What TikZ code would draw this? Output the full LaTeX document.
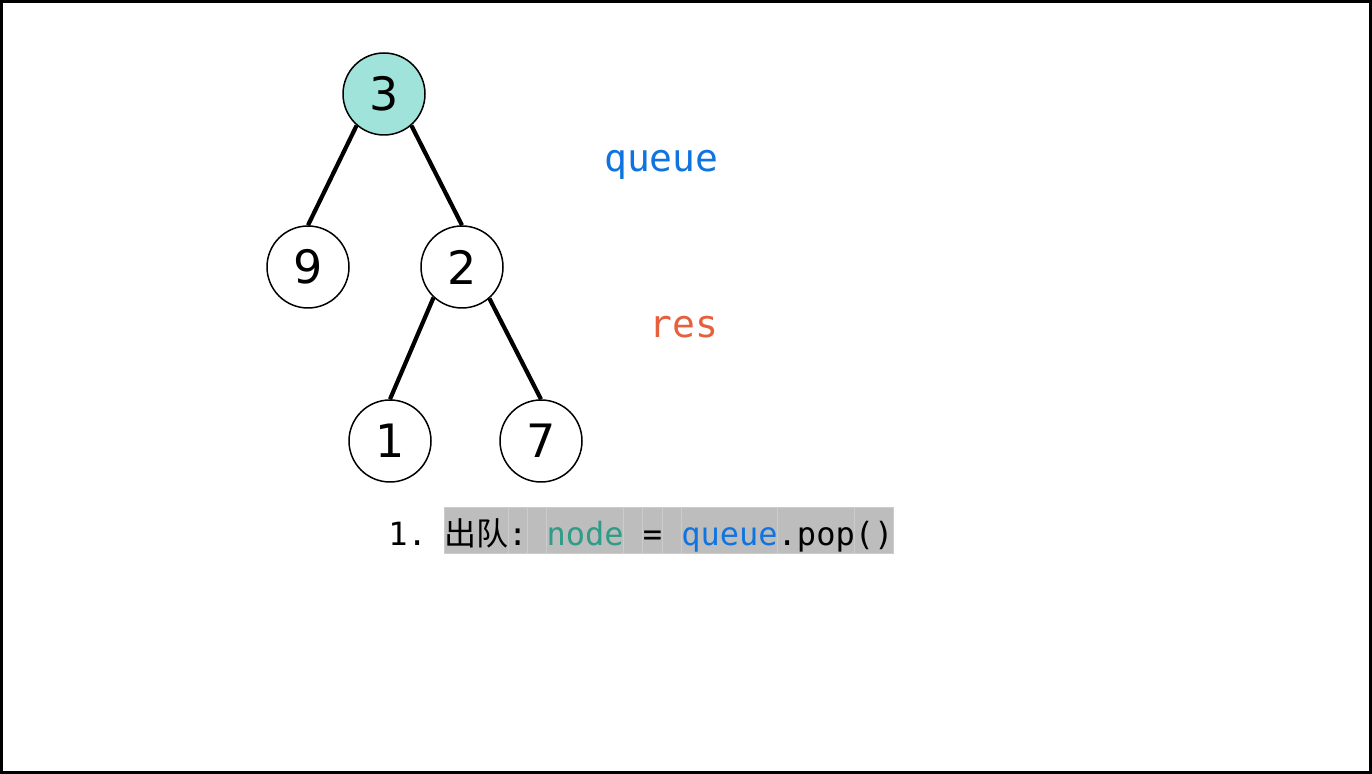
\documentclass[tikz,border=0pt]{standalone}
\usepackage{fontspec}
\setmainfont{DejaVu Sans}
\setmonofont{DejaVu Sans Mono}
\newfontfamily\cjkfont{Noto Sans CJK SC}
\usetikzlibrary{positioning}
\definecolor{rootfill}{RGB}{159,227,218}
\definecolor{qblue}{RGB}{16,116,224}
\definecolor{resred}{RGB}{230,96,62}
\definecolor{nodegreen}{RGB}{46,156,134}
\definecolor{cellgray}{RGB}{189,189,189}
\definecolor{cellline}{RGB}{204,204,204}

\begin{document}
\begin{tikzpicture}[x=0.5pt, y=-0.5pt,
  treenode/.style={circle, draw, line width=0.75pt, minimum size=41pt, inner sep=0pt, font=\fontsize{23}{23}\selectfont},
  branch/.style={line width=2.1pt},
  listname/.style={anchor=base east, inner sep=0pt, font=\fontsize{19}{19}\ttfamily},
  codecell/.style={fill=cellgray, draw=cellline, line width=0.4pt, inner sep=0pt, outer sep=0pt, text height=19.5pt, text depth=3.5pt, font=\fontsize{16}{16}\ttfamily}
]
\useasboundingbox (0,0) rectangle (1372,774);
\draw [line width=1.5pt] (1.5,1.5) rectangle (1370.5,772.5);

\node[treenode, fill=rootfill] (n3) at (384,94) {3};
\node[treenode, fill=white] (n9) at (308,267) {9};
\node[treenode, fill=white] (n2) at (462,267) {2};
\node[treenode, fill=white] (n1) at (390,441) {1};
\node[treenode, fill=white] (n7) at (541,441) {7};

\draw [branch] (n3.-131) -- (n9.north);
\draw [branch] (n3.-49) -- (n2.north);
\draw [branch] (n2.-133) -- (n1.north);
\draw [branch] (n2.-49) -- (n7.north);

\node[listname, text=qblue] (queue) at (719,172) {queue};
\node[listname, text=resred] (res) at (719,338) {res};

\node[anchor=base west, inner sep=0pt, font=\fontsize{16}{16}\ttfamily] (step1) at (388,546) {1.};
\node[codecell, anchor=base west] (c1) at (444,546) {\cjkfont 出队};
\node[codecell, right=0pt of c1] (c2) {:};
\node[codecell, right=0pt of c2] (c3) {\hphantom{x}};
\node[codecell, right=0pt of c3, text=nodegreen] (c4) {node};
\node[codecell, right=0pt of c4] (c5) {\hphantom{x}};
\node[codecell, right=0pt of c5] (c6) {=};
\node[codecell, right=0pt of c6] (c7) {\hphantom{x}};
\node[codecell, right=0pt of c7, text=qblue] (c8) {queue};
\node[codecell, right=0pt of c8] (c9) {.pop};
\node[codecell, right=0pt of c9] (c10) {()};

\end{tikzpicture}
\end{document}
